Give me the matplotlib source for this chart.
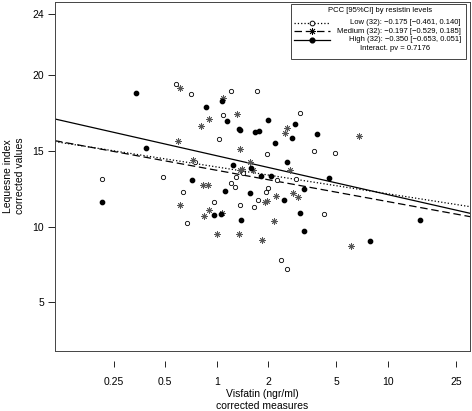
import numpy as np
import matplotlib
matplotlib.use('Agg')
import matplotlib.pyplot as plt
from matplotlib.lines import Line2D
from matplotlib.patches import Rectangle

plt.rcParams['font.family'] = ['Liberation Sans', 'DejaVu Sans']

# Low resistin (open circles)
low_x = [0.2135, 0.487, 0.578, 0.711, 1.217, 1.727, 1.084, 1.027, 0.750, 1.434,
         1.302, 1.207, 1.279, 0.635, 0.968, 1.750, 1.374, 1.659, 0.672, 3.089,
         1.976, 3.720, 4.934, 2.258, 2.896, 1.995, 1.955, 4.222, 2.385, 2.586]
low_y = [13.16, 13.27, 19.40, 18.76, 18.94, 18.97, 17.34, 15.75, 14.26, 13.50,
         13.25, 12.85, 12.59, 12.25, 11.64, 11.77, 11.39, 11.32, 10.22, 17.47,
         14.78, 14.96, 14.87, 13.07, 13.12, 12.53, 12.30, 10.81, 7.77, 7.22]

# Medium resistin (asterisks)
med_x = [0.610, 1.093, 1.318, 0.901, 0.815, 0.596, 1.374, 0.724, 1.572, 1.400,
         1.368, 1.623, 0.835, 0.893, 0.608, 0.905, 1.070, 0.843, 1.001, 1.359,
         2.569, 2.518, 6.807, 2.671, 2.213, 2.800, 2.999, 1.968, 1.921, 2.168,
         1.852, 6.111]
med_y = [19.13, 18.49, 17.42, 17.06, 16.62, 15.62, 15.13, 14.41, 14.26, 13.82,
         13.73, 13.73, 12.74, 12.74, 11.39, 11.06, 10.91, 10.68, 9.52, 9.49,
         16.51, 16.18, 15.97, 13.70, 12.00, 12.18, 11.98, 11.70, 11.60, 10.39,
         9.08, 8.70]

# High resistin (filled circles)
high_x = [0.337, 0.386, 0.214, 1.078, 0.864, 1.156, 1.359, 1.365, 1.675, 1.779,
          1.250, 1.580, 0.720, 1.118, 1.576, 1.064, 0.971, 1.383, 2.003, 2.888,
          2.766, 3.848, 2.201, 2.576, 1.808, 2.077, 4.533, 3.247, 2.464, 3.081,
          3.238, 7.872, 15.39]
high_y = [18.83, 15.15, 11.62, 18.26, 17.87, 16.96, 16.45, 16.37, 16.24, 16.27,
          14.03, 13.84, 13.04, 12.32, 12.21, 10.83, 10.76, 10.43, 17.04, 16.75,
          15.86, 16.12, 15.49, 14.24, 13.33, 13.30, 13.23, 12.46, 11.73, 10.87,
          9.69, 9.03, 10.45]

# fitted lines: y = a + b * log10(x)
fit_a = {'Low': 13.93, 'Medium': 13.71, 'High': 14.67}
fit_b = {'Low': -1.769, 'Medium': -2.065, 'High': -2.564}

labels = ['Low (32): \u22120.175 [\u22120.461, 0.140]',
          'Medium (32): \u22120.197 [\u22120.529, 0.185]',
          'High (32): \u22120.350 [\u22120.653, 0.051]']
x_ticks = [0.25, 0.5, 1, 2, 5, 10, 25]
y_ticks = [5, 10, 15, 20, 24]

W, H = 472, 411
fig = plt.figure(figsize=(W / 100, H / 100), dpi=100)
ax = fig.add_axes([55 / W, 1 - 351 / H, 415 / W, 349 / H])
ax.set_xscale('log')
xlim = (0.1135, 30.24)
ax.set_xlim(*xlim)
ax.set_ylim(1.79, 24.81)

styles = {'Low': ':', 'Medium': (0, (6, 3)), 'High': '-'}
xx = np.array(xlim)
for g in ['Low', 'Medium', 'High']:
    ax.plot(xx, fit_a[g] + fit_b[g] * np.log10(xx), color='black',
            linestyle=styles[g], lw=0.9, zorder=2)

ax.plot(low_x, low_y, 'o', ms=3.1, mfc='white', mec='black', mew=0.6, zorder=3)
ax.plot(med_x, med_y, marker=(8, 2, 0), ls='none', ms=4.6, color='#555555', mew=0.6, zorder=3)
ax.plot(high_x, high_y, 'o', ms=3.1, color='black', zorder=3)

for s in ax.spines.values():
    s.set_linewidth(0.7)
    s.set_color('#444444')

ax.set_yticks(y_ticks)
ax.tick_params(axis='y', direction='out', length=5, width=0.6, labelsize=7.5, pad=3)
ax.tick_params(axis='x', which='both', bottom=False, labelbottom=False)

# detached x axis like R
sec = ax.secondary_xaxis(-0.03)
sec.set_xticks(x_ticks)
sec.set_xticklabels([str(t) for t in x_ticks])
sec.xaxis.set_minor_locator(matplotlib.ticker.NullLocator())
sec.spines['bottom'].set_visible(False)
sec.tick_params(axis='x', direction='out', length=4, width=0.6, labelsize=7.5, pad=7)

fig.text(262.5 / W, 1 - 400 / H, 'Visfatin (ngr/ml)\ncorrected measures', ha='center',
         va='center', fontsize=7.5, linespacing=1.3)
fig.text(14 / W, 1 - 176 / H, 'Lequesne index\ncorrected values', ha='center',
         va='center', rotation=90, fontsize=7.5, linespacing=1.3)

# legend box
fig.patches.append(Rectangle((291 / W, 1 - 59 / H), 175 / W, 55 / H, transform=fig.transFigure,
                             facecolor='white', edgecolor='#444444', lw=0.7, zorder=5))
fig.text(380 / W, 1 - 11 / H, 'PCC [95%CI] by resistin levels', ha='center', va='center',
         fontsize=5.5, zorder=6)
rows = [22.7, 31.2, 39.7]
mk = [dict(marker='o', mfc='white', mec='black', ms=3.4, mew=0.7),
      dict(marker=(8, 2, 0), color='black', ms=5, mew=0.6),
      dict(marker='o', color='black', ms=3.4)]
for i, g in enumerate(['Low', 'Medium', 'High']):
    yy = 1 - rows[i] / H
    fig.add_artist(Line2D([294 / W, 330 / W], [yy, yy], transform=fig.transFigure,
                          color='black', linestyle=styles[g], lw=0.9, zorder=6))
    fig.add_artist(Line2D([312 / W], [yy], transform=fig.transFigure, ls='none',
                          zorder=7, **mk[i]))
    fig.text(461 / W, yy, labels[i], ha='right', va='center', fontsize=5.5, zorder=6)
fig.text(395.5 / W, 1 - 48.3 / H, 'Interact. pv = 0.7176', ha='center', va='center',
         fontsize=5.5, zorder=6)

fig.savefig('out.png', dpi=100)
